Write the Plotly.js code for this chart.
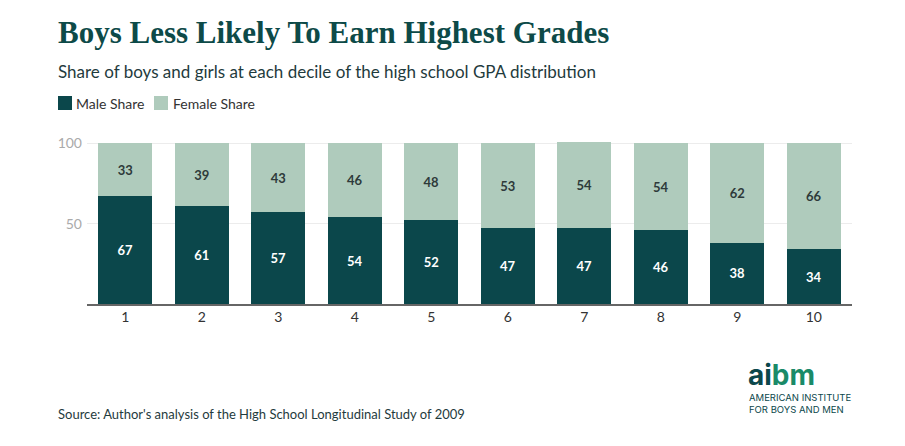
<!DOCTYPE html>
<html>
<head>
<meta charset="utf-8">
<script src="https://cdn.plot.ly/plotly-3.0.1.min.js"></script>
<style>html,body{margin:0;padding:0;background:#fff;}#chart{width:905px;height:446px;}</style>
</head>
<body>
<div id="chart"></div>
<script>
const deciles = ["1","2","3","4","5","6","7","8","9","10"];
const maleShare = [67, 61, 57, 54, 52, 47, 47, 46, 38, 34];
const femaleShare = [33, 39, 43, 46, 48, 53, 54, 54, 62, 66];
const yTicks = [50, 100];

const MALE = "#0b474b";
const FEMALE = "#afcbbc";
const TXT = "Lato, 'Open Sans', sans-serif";

// plot area in pixels (for placing page texts in paper coordinates)
const L = 87, R = 53, T = 140, B = 142, W = 905, H = 446;
const PW = W - L - R, PH = H - T - B;
const px = x => (x - L) / PW;
const py = y => (H - B - y) / PH;

const traces = [
  {
    type: "bar", name: "Male Share", x: deciles, y: maleShare,
    marker: {color: MALE},
    text: maleShare.map(String), textposition: "inside", insidetextanchor: "middle",
    textfont: {family: TXT, size: 13, color: "#ffffff", weight: "bold"},
    hoverinfo: "skip"
  },
  {
    type: "bar", name: "Female Share", x: deciles, y: femaleShare,
    marker: {color: FEMALE},
    text: femaleShare.map(String), textposition: "inside", insidetextanchor: "middle",
    textfont: {family: TXT, size: 13, color: "#2e3a3a", weight: "bold"},
    hoverinfo: "skip"
  }
];

function txt(x, y, text, font, anchor) {
  return {xref: "paper", yref: "paper", x: px(x), y: py(y), xanchor: anchor || "left", yanchor: "middle",
          text: text, showarrow: false, font: font, borderpad: 0, align: "left"};
}

const LOGO = "Inter, 'DejaVu Sans', sans-serif";

const layout = {
  width: W, height: H,
  paper_bgcolor: "#fff", plot_bgcolor: "#fff",
  margin: {l: L, r: R, t: T, b: B},
  barmode: "stack", bargap: 0.3,
  showlegend: false,
  xaxis: {
    type: "category", showline: true, linecolor: "#666", linewidth: 1.5,
    ticks: "", showgrid: false,
    tickfont: {family: TXT, size: 14, color: "#333"}
  },
  yaxis: {
    range: [0, 102], tickvals: yTicks, ticktext: yTicks.map(String),
    showgrid: true, gridcolor: "#ececec", gridwidth: 1, zeroline: false,
    ticks: "", ticklabelstandoff: 4, tickfont: {family: TXT, size: 14, color: "#aaa"}
  },
  shapes: [
    {type: "rect", xref: "paper", yref: "paper", x0: px(58), x1: px(72), y0: py(110), y1: py(96),
     fillcolor: MALE, line: {width: 0}},
    {type: "rect", xref: "paper", yref: "paper", x0: px(154), x1: px(168), y0: py(110), y1: py(96),
     fillcolor: FEMALE, line: {width: 0}}
  ],
  annotations: [
    txt(57, 32, "<b>Boys Less Likely To Earn Highest Grades</b>",
        {family: "'Liberation Serif', 'DejaVu Serif', serif", size: 31, color: "#0d4a48"}),
    txt(57, 71, "Share of boys and girls at each decile of the high school GPA distribution",
        {family: TXT, size: 17, color: "#1f3b3d"}),
    txt(75, 103, "Male Share", {family: TXT, size: 14, color: "#333"}),
    txt(172, 103, "Female Share", {family: TXT, size: 14, color: "#333"}),
    txt(57, 414, "Source: Author's analysis of the High School Longitudinal Study of 2009",
        {family: TXT, size: 13, color: "#1f3b3d"}),
    txt(747, 375, "<b><span style='color:#0b474b'>ai</span><span style='color:#1a8a68'>bm</span></b>",
        {family: LOGO, size: 28, color: "#0b474b"}),
    txt(748, 403, "AMERICAN INSTITUTE<br>FOR BOYS AND MEN", {family: LOGO, size: 9.5, color: "#0b474b"})
  ]
};

Plotly.newPlot("chart", traces, layout, {displayModeBar: false, staticPlot: true});
</script>
</body>
</html>
